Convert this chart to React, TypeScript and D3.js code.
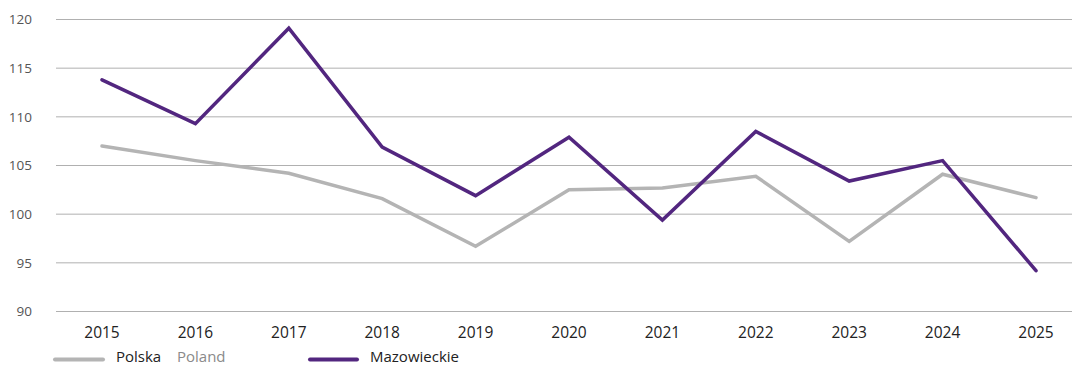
import React from "react";
import * as d3 from "d3";

const years = ["2015","2016","2017","2018","2019","2020","2021","2022","2023","2024","2025"];
const polska = [107.0, 105.5, 104.2, 101.6, 96.7, 102.5, 102.7, 103.9, 97.2, 104.1, 101.7];
const mazowieckie = [113.8, 109.3, 119.1, 106.9, 101.9, 107.9, 99.4, 108.5, 103.4, 105.5, 94.2];
const yTicks = [90, 95, 100, 105, 110, 115, 120];

const W = 1072, H = 366;
const FONT = "'Open Sans', 'Noto Sans', sans-serif";
const PURPLE = "#52267f";
const GRAY = "#b4b4b4";

export default function App() {
  const x = d3.scalePoint<string>().domain(years).range([102, 1036]);
  const y = d3.scaleLinear().domain([90, 120]).range([311.5, 19.5]);
  const line = d3.line<number>().x((_, i) => x(years[i])!).y(d => y(d));
  return (
    <svg width={W} height={H} style={{ position: "absolute", left: 0, top: 0, background: "#fff" }}>
      {yTicks.map(t => (
        <g key={t}>
          <line x1={56} x2={1072} y1={y(t)} y2={y(t)} stroke="#b0b0b0" strokeWidth={1} />
          <text x={32} y={y(t)} dy="0.35em" textAnchor="end" fontFamily={FONT} fontSize={13.5} fill="#555">{t}</text>
        </g>
      ))}
      {years.map(yr => (
        <text key={yr} x={x(yr)} y={338} textAnchor="middle" fontFamily={FONT} fontSize={15.5} fill="#222">{yr}</text>
      ))}
      <path d={line(polska)!} fill="none" stroke={GRAY} strokeWidth={3.5} strokeLinejoin="miter" strokeLinecap="round" />
      <path d={line(mazowieckie)!} fill="none" stroke={PURPLE} strokeWidth={3.5} strokeLinejoin="miter" strokeLinecap="round" />
      <line x1={55} x2={103} y1={359.5} y2={359.5} stroke={GRAY} strokeWidth={4} strokeLinecap="round" />
      <text x={116} y={362} fontFamily={FONT} fontSize={15} fill="#222">Polska</text>
      <text x={177} y={362} fontFamily={FONT} fontSize={15} fill="#8a8a8a">Poland</text>
      <line x1={310} x2={357} y1={359.5} y2={359.5} stroke={PURPLE} strokeWidth={4} strokeLinecap="round" />
      <text x={370} y={362} fontFamily={FONT} fontSize={15} fill="#222">Mazowieckie</text>
    </svg>
  );
}
